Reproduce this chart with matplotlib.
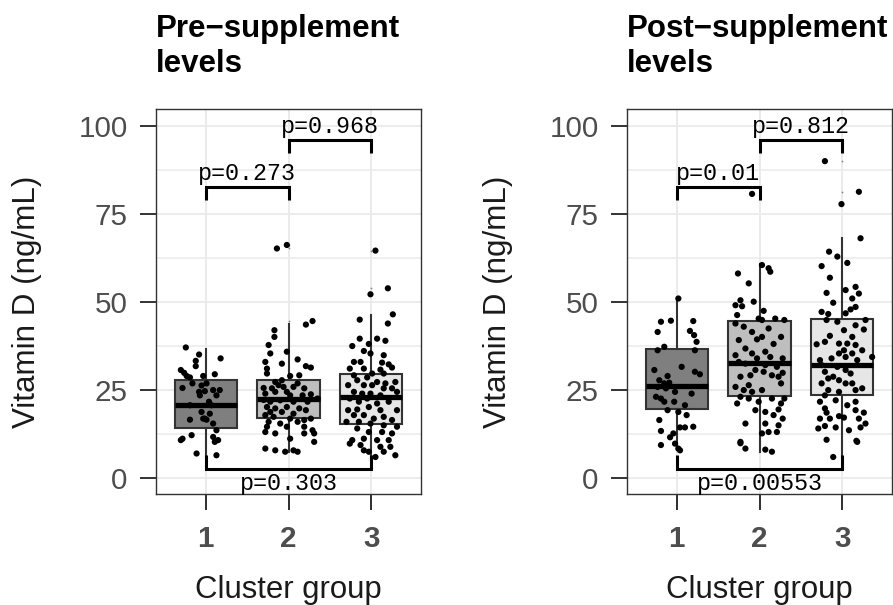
import matplotlib
matplotlib.use("Agg")
import matplotlib.pyplot as plt
from matplotlib.ticker import MultipleLocator

plt.rcParams['font.family'] = ['Liberation Sans', 'DejaVu Sans']

# ---------------- data ----------------
groups = [1, 2, 3]
group_labels = ['1', '2', '3']
box_fills = ['#7f7f7f', '#bebebe', '#e6e6e6']

panel_titles = ['Pre\u2212supplement\nlevels', 'Post\u2212supplement\nlevels']
x_label = 'Cluster group'
y_label = 'Vitamin D (ng/mL)'

# box statistics (whisker low, Q1, median, Q3, whisker high) per cluster
pre_whislo = [6.0, 7.5, 5.1]
pre_q1 = [14.3, 17.1, 15.3]
pre_med = [20.7, 22.4, 23.1]
pre_q3 = [27.8, 28.0, 29.5]
pre_whishi = [36.8, 43.9, 46.3]
pre_fliers = [[], [44.6, 65.2, 66.2], [52.2, 53.9, 64.6]]

post_whislo = [8.0, 7.5, 6.1]
post_q1 = [19.6, 23.3, 23.6]
post_med = [26.3, 32.8, 32.0]
post_q3 = [36.6, 44.6, 45.2]
post_whishi = [51.0, 60.8, 68.1]
post_fliers = [[], [80.7], [77.8, 81.3, 90.0]]

# jittered observations: (horizontal jitter, value) per cluster
pre_pts_1 = [(-0.24, 37.1), (-0.08, 35.1), (-0.12, 33.3), (0.18, 34.0), (-0.12, 31.8), (-0.30, 30.7),
             (-0.26, 29.9), (-0.23, 29.0), (-0.19, 28.6), (-0.03, 29.0), (0.11, 29.5), (-0.16, 26.9),
             (-0.05, 26.3), (0.01, 26.9), (-0.28, 25.6), (-0.08, 24.5), (-0.01, 24.7), (0.09, 25.0),
             (0.17, 25.0), (0.13, 23.5), (-0.07, 23.5), (0.04, 21.7), (-0.19, 20.7), (0.07, 20.7),
             (-0.05, 18.8), (-0.01, 16.9), (0.05, 18.3), (0.01, 16.6), (-0.19, 16.6), (0.09, 15.5),
             (0.13, 13.6), (-0.17, 12.2), (-0.28, 11.2), (-0.30, 10.8), (0.09, 11.7), (0.11, 10.3),
             (0.15, 10.8), (-0.11, 7.0), (0.13, 6.5), (-0.03, 16.9)]
pre_pts_2 = [(-0.14, 65.2), (-0.02, 66.2), (0.21, 43.6), (0.29, 44.6), (-0.17, 42.0), (-0.17, 40.1),
             (-0.24, 37.8), (-0.22, 35.4), (-0.02, 35.9), (-0.28, 33.0), (-0.08, 32.5), (0.11, 33.7),
             (0.21, 31.8), (0.27, 31.4), (-0.26, 31.1), (-0.26, 29.7), (0.13, 29.2), (0.02, 29.0),
             (-0.08, 27.8), (-0.16, 27.3), (-0.12, 26.4), (0.11, 26.9), (-0.30, 25.6), (-0.20, 25.5),
             (-0.06, 25.9), (0.06, 25.9), (0.19, 25.5), (-0.28, 24.0), (-0.16, 24.5), (-0.02, 24.5),
             (0.02, 23.5), (0.17, 23.5), (0.27, 23.8), (0.35, 22.6), (-0.30, 22.2), (-0.22, 21.7),
             (-0.10, 22.1), (0.06, 21.7), (0.23, 21.7), (-0.26, 20.2), (-0.16, 19.8), (-0.02, 20.2),
             (0.13, 19.8), (-0.22, 18.8), (-0.08, 18.8), (0.06, 18.3), (0.21, 19.3), (-0.28, 17.9),
             (-0.18, 17.4), (0.02, 16.9), (0.19, 16.5), (0.27, 16.9), (-0.24, 16.0), (-0.10, 15.5),
             (0.11, 16.0), (-0.26, 14.6), (-0.02, 14.6), (0.19, 14.6), (0.29, 13.6), (-0.28, 13.1),
             (-0.16, 12.7), (0.19, 12.7), (0.31, 12.7), (0.02, 11.2), (0.31, 10.3), (-0.28, 8.4),
             (-0.16, 7.9), (-0.04, 7.5), (0.06, 7.9), (0.11, 7.5)]
pre_pts_3 = [(0.05, 64.6), (0.20, 53.9), (-0.01, 52.2), (0.26, 46.5), (-0.14, 45.0), (0.20, 43.9),
             (-0.14, 39.6), (0.07, 39.6), (-0.03, 38.1), (0.17, 39.0), (-0.23, 37.5), (-0.09, 36.1),
             (-0.01, 35.4), (0.15, 34.9), (-0.21, 33.0), (-0.13, 33.0), (0.13, 32.8), (0.21, 32.3),
             (0.25, 31.4), (-0.26, 31.1), (-0.09, 31.1), (0.11, 30.8), (0.01, 29.7), (0.15, 29.7),
             (-0.21, 29.2), (-0.05, 28.6), (-0.17, 27.8), (0.07, 27.3), (0.17, 26.9), (0.29, 27.3),
             (-0.28, 26.4), (-0.09, 26.4), (0.01, 26.4), (0.15, 25.5), (0.25, 25.5), (-0.21, 24.5),
             (-0.11, 24.0), (-0.01, 24.0), (0.11, 23.5), (0.31, 24.5), (-0.26, 22.6), (-0.15, 21.7),
             (-0.05, 22.6), (0.07, 21.2), (0.21, 21.7), (-0.28, 19.3), (-0.17, 19.5), (-0.03, 20.2),
             (0.11, 19.3), (0.31, 19.3), (-0.21, 17.9), (-0.09, 17.9), (0.03, 16.9), (0.15, 17.4),
             (0.25, 16.5), (-0.30, 16.0), (-0.15, 16.0), (-0.01, 15.5), (0.15, 15.0), (0.31, 14.6),
             (-0.17, 14.1), (-0.03, 13.1), (0.13, 13.1), (0.25, 12.7), (-0.23, 10.8), (-0.09, 11.2),
             (0.07, 10.8), (0.21, 10.8), (-0.26, 9.8), (-0.13, 9.4), (0.11, 8.9), (0.23, 8.9),
             (-0.03, 7.5), (0.15, 7.5), (0.29, 6.5), (0.05, 6.0), (-0.09, 7.9)]

post_pts_1 = [(0.02, 51.0), (-0.19, 44.4), (-0.07, 44.7), (0.20, 44.6), (-0.23, 41.5), (0.16, 41.8),
              (0.21, 40.6), (0.24, 38.7), (-0.15, 37.3), (-0.23, 36.3), (0.22, 36.3), (0.06, 31.6),
              (-0.27, 30.7), (-0.11, 29.0), (0.22, 30.2), (0.28, 29.5), (-0.21, 27.8), (-0.15, 26.9),
              (-0.09, 27.1), (-0.23, 25.9), (-0.13, 25.5), (-0.02, 24.5), (-0.25, 23.1), (-0.19, 22.6),
              (0.18, 24.0), (-0.15, 21.7), (-0.03, 21.7), (0.10, 20.7), (-0.11, 19.3), (0.02, 18.8),
              (0.12, 17.9), (-0.21, 16.5), (0.04, 14.4), (0.10, 14.4), (0.20, 14.6), (-0.19, 13.4),
              (-0.04, 12.7), (-0.19, 9.4), (-0.02, 9.8), (0.02, 8.4), (0.04, 7.9), (-0.08, 11.6)]
post_pts_2 = [(-0.09, 80.7), (0.03, 60.5), (0.11, 59.6), (0.13, 58.6), (-0.26, 58.1), (-0.13, 55.3),
              (-0.23, 50.5), (-0.07, 50.1), (-0.29, 49.1), (-0.21, 48.8), (0.05, 47.5), (-0.27, 46.3),
              (-0.01, 45.3), (0.03, 44.9), (0.19, 45.3), (0.30, 44.9), (-0.29, 43.9), (-0.19, 43.0),
              (-0.09, 41.5), (0.11, 42.5), (0.03, 40.1), (0.26, 40.1), (-0.25, 39.2), (-0.03, 39.4),
              (0.17, 38.1), (-0.17, 36.8), (-0.09, 35.4), (0.07, 35.9), (-0.29, 34.9), (-0.03, 34.0),
              (0.13, 34.4), (0.28, 34.0), (-0.25, 33.0), (-0.17, 32.5), (0.07, 32.1), (0.21, 31.6),
              (-0.05, 30.7), (0.05, 30.2), (0.28, 29.9), (-0.23, 28.8), (-0.11, 29.2), (0.15, 29.2),
              (0.23, 28.8), (0.26, 26.9), (-0.29, 25.9), (-0.13, 26.4), (-0.19, 25.0), (-0.09, 24.5),
              (0.03, 25.0), (-0.23, 23.1), (-0.13, 22.6), (0.15, 22.6), (0.30, 22.6), (-0.27, 21.2),
              (-0.01, 21.7), (0.26, 21.2), (-0.05, 19.3), (0.07, 18.8), (0.23, 19.5), (0.17, 17.9),
              (0.28, 16.9), (-0.17, 15.5), (0.07, 15.5), (0.23, 15.0), (0.11, 13.1), (0.21, 13.1),
              (0.03, 12.7), (-0.23, 10.3), (-0.23, 9.9), (-0.17, 8.4), (0.07, 8.1), (0.15, 7.5)]
post_pts_3 = [(-0.21, 90.0), (0.20, 81.3), (-0.01, 77.8), (0.22, 68.1), (-0.16, 64.3), (-0.06, 62.9),
              (-0.25, 60.2), (0.06, 61.1), (-0.15, 56.9), (0.16, 54.3), (0.04, 53.4), (-0.19, 52.6),
              (0.20, 52.4), (0.12, 51.0), (-0.11, 49.8), (0.16, 48.6), (0.10, 47.9), (-0.25, 47.2),
              (-0.17, 46.6), (0.04, 46.8), (0.28, 44.9), (-0.19, 44.9), (-0.06, 44.4), (0.16, 43.4),
              (0.26, 42.2), (0.02, 42.0), (-0.15, 40.4), (0.12, 40.1), (-0.21, 38.7), (-0.04, 38.2),
              (0.06, 38.2), (0.16, 37.8), (0.02, 36.3), (0.24, 36.3), (-0.31, 38.0), (-0.04, 35.4),
              (0.12, 35.4), (0.04, 34.4), (-0.27, 33.5), (-0.13, 34.0), (0.18, 33.5), (0.36, 34.4),
              (-0.25, 32.1), (-0.06, 31.6), (-0.21, 30.2), (0.04, 30.7), (-0.11, 28.8), (0.10, 29.7),
              (-0.17, 28.3), (-0.04, 27.8), (0.04, 26.9), (0.12, 26.9), (-0.25, 26.9), (-0.17, 25.0),
              (-0.21, 23.5), (-0.04, 24.5), (0.16, 25.0), (0.24, 25.5), (-0.27, 21.7), (-0.08, 22.1),
              (0.16, 21.7), (0.06, 20.7), (-0.21, 19.8), (0.26, 18.6), (-0.19, 18.6), (0.16, 19.3),
              (-0.04, 17.6), (-0.27, 16.9), (-0.15, 16.9), (0.02, 17.2), (0.20, 16.9), (0.28, 15.5),
              (-0.21, 14.8), (-0.08, 14.4), (-0.29, 14.1), (0.08, 13.6), (0.22, 14.4), (-0.19, 10.9),
              (0.17, 10.6), (-0.11, 6.0), (0.18, 10.3)]

# significance brackets: (from group, to group, height, label, opens downward?)
pre_brackets = [(1, 2, 82.7, 'p=0.273', True), (2, 3, 96.0, 'p=0.968', True),
                (1, 3, 2.6, 'p=0.303', False)]
post_brackets = [(1, 2, 82.7, 'p=0.01', True), (2, 3, 96.0, 'p=0.812', True),
                 (1, 3, 2.6, 'p=0.00553', False)]

# ---------------- figure ----------------
W, H = 893, 605
fig = plt.figure(figsize=(W / 100, H / 100), dpi=100)
fig.patch.set_facecolor('white')

INK = '#333333'
GRID = '#ebebeb'
TICKTXT = '#4d4d4d'


def draw_panel(ax, title, pts_list, whislo, q1, med, q3, whishi, fliers, brackets):
    ax.set_xlim(0.4, 3.6)
    ax.set_ylim(-4.5, 104.8)
    ax.yaxis.set_major_locator(MultipleLocator(25))
    ax.yaxis.set_minor_locator(MultipleLocator(12.5))
    ax.set_xticks(groups)
    ax.set_xticklabels(group_labels)
    ax.grid(which='major', color=GRID, lw=1.3)
    ax.grid(which='minor', axis='y', color=GRID, lw=1.1)
    ax.set_axisbelow(True)
    for s in ax.spines.values():
        s.set_color(INK)
        s.set_linewidth(1.0)
    ax.tick_params(which='major', length=11.5, width=1.4, color=INK,
                   labelsize=21.3, labelcolor=TICKTXT)
    ax.tick_params(axis='y', which='major', pad=9.0)
    ax.tick_params(axis='x', which='major', pad=11.0)
    ax.tick_params(which='minor', length=0)
    for lbl in ax.get_xticklabels():
        lbl.set_fontweight('bold')

    stats = []
    for i in range(3):
        stats.append(dict(whislo=whislo[i], q1=q1[i], med=med[i], q3=q3[i],
                          whishi=whishi[i], fliers=fliers[i]))
    bp = ax.bxp(stats, positions=groups, widths=0.75, patch_artist=True,
                showcaps=False,
                boxprops=dict(edgecolor=INK, linewidth=1.5),
                whiskerprops=dict(color=INK, linewidth=1.5),
                medianprops=dict(color='black', linewidth=3.8, solid_capstyle='butt'),
                flierprops=dict(marker='o', markersize=1.3, markerfacecolor='#888888',
                                markeredgecolor='none'),
                zorder=2)
    for patch, c in zip(bp['boxes'], box_fills):
        patch.set_facecolor(c)

    for g, pts in zip(groups, pts_list):
        xs = [g + d for d, v in pts]
        ys = [v for d, v in pts]
        ax.scatter(xs, ys, s=20, color='black', edgecolors='none', zorder=3)

    for g1, g2, yb, lab, down in brackets:
        arm = -3.7 if down else 3.9
        ax.plot([g1, g1, g2, g2], [yb + arm, yb, yb, yb + arm], color='black',
                lw=2.2, solid_capstyle='butt', solid_joinstyle='miter', zorder=4)
        xm = (g1 + g2) / 2
        if down:
            ax.text(xm, yb + 1.9, lab, ha='center', va='baseline', fontsize=16.8,
                    family=['Liberation Mono', 'DejaVu Sans Mono'], zorder=5)
        else:
            ax.text(xm, -3.4, lab, ha='center', va='baseline', fontsize=16.8,
                    family=['Liberation Mono', 'DejaVu Sans Mono'], zorder=5)

    # multi-line title: anchored at the baseline of its last line
    ax.text(0.0, 1.096, title, transform=ax.transAxes, ha='left', va='baseline',
            fontsize=22.5, fontweight='bold', color='black', linespacing=1.2)
    ax.text(0.5, -0.270, x_label, transform=ax.transAxes, ha='center', va='baseline',
            fontsize=22.4, color='#1a1a1a')
    ax.text(-0.485, 0.5, y_label, transform=ax.transAxes, ha='center', va='center',
            rotation=90, fontsize=22.6, color='#1a1a1a')


ax1 = fig.add_axes([156 / W, 1 - 494 / H, 265 / W, 385 / H])
ax2 = fig.add_axes([627 / W, 1 - 494 / H, 265 / W, 385 / H])

draw_panel(ax1, panel_titles[0], [pre_pts_1, pre_pts_2, pre_pts_3],
           pre_whislo, pre_q1, pre_med, pre_q3, pre_whishi, pre_fliers, pre_brackets)
draw_panel(ax2, panel_titles[1], [post_pts_1, post_pts_2, post_pts_3],
           post_whislo, post_q1, post_med, post_q3, post_whishi, post_fliers, post_brackets)

fig.savefig('out.png', dpi=100, facecolor='white')
